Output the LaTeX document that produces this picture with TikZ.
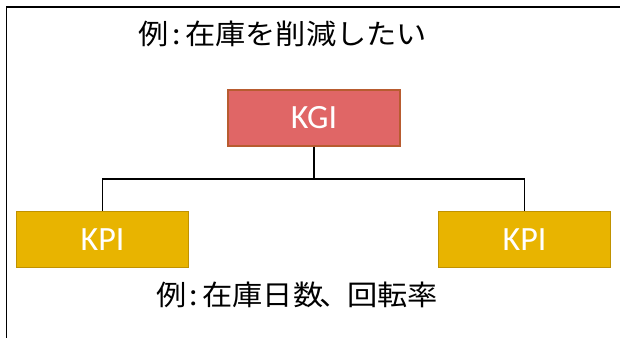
\documentclass[tikz,border=0pt]{standalone}
\usepackage{fontspec}
\setmainfont{Carlito}
\newfontfamily\jpfont{Noto Sans CJK JP}
\definecolor{kgifill}{RGB}{224,102,102}
\definecolor{kgiline}{RGB}{184,92,48}
\definecolor{kpifill}{RGB}{232,180,0}
\definecolor{kpiline}{RGB}{192,146,0}
\begin{document}
\begin{tikzpicture}[x=1pt,y=1pt,
  kgibox/.style={draw=kgiline,fill=kgifill,line width=1.5pt,minimum width=172pt,minimum height=56pt,inner sep=0pt,text=white,font=\fontsize{34}{34}\selectfont},
  kpibox/.style={draw=kpiline,fill=kpifill,line width=1.5pt,minimum width=172pt,minimum height=56pt,inner sep=0pt,text=white,font=\fontsize{34}{34}\selectfont},
  jptext/.style={font=\jpfont\fontsize{28}{28}\selectfont,inner sep=0pt,xscale=1.08,transform shape},
  link/.style={draw=black,line width=1.8pt}]
\useasboundingbox (0,0) rectangle (620,337);
\clip (0,0) rectangle (620,337);
\draw[line width=1.8pt] (6.5,-10) -- (6.5,330) -- (640,330);
\node[jptext] (title) at (283,303) {例\hspace{3pt}:\hspace{4pt}在庫を削減したい};
\node[kgibox] (kgi) at (314,219) {KGI};
\node[kpibox] (kpil) at (102.5,97.5) {KPI};
\node[kpibox] (kpir) at (524.5,97.5) {KPI};
\node[jptext] (ex) at (297,42) {例\hspace{3pt}:\hspace{4pt}在庫日数\hspace{-4pt}、\hspace{-2pt}回転率};
\coordinate (bus) at (314,158);
\draw[link] (kgi.south) -- (bus);
\draw[link] (kpil.north) |- (bus) -| (kpir.north);
\end{tikzpicture}
\end{document}
